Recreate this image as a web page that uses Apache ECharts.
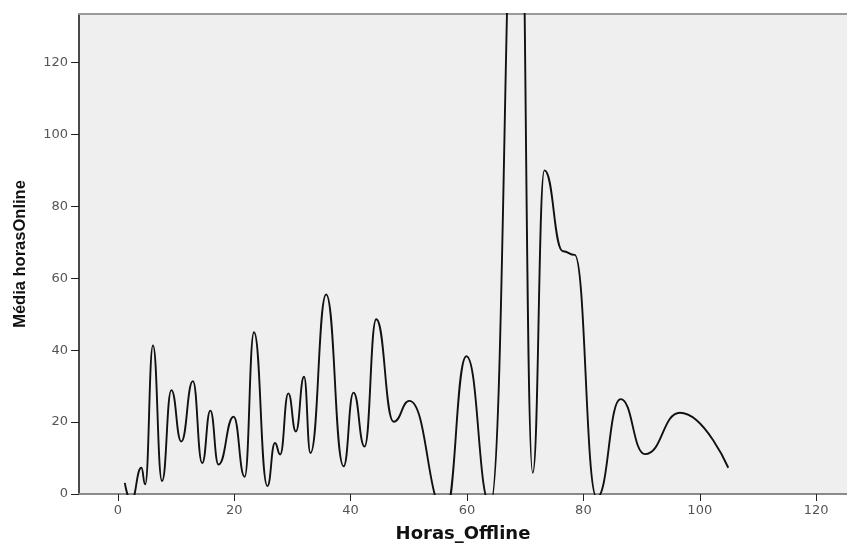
<!DOCTYPE html>
<html>
<head>
<meta charset="utf-8">
<script src="https://cdn.jsdelivr.net/npm/echarts@6/dist/echarts.min.js"></script>
<style>
html,body{margin:0;padding:0;background:#fff;}
#chart{width:847px;height:548px;}
</style>
</head>
<body>
<div id="chart"></div>
<script>
const hoursOffline = [1.2, 2.3, 4.05, 4.7, 6.04, 7.6, 9.2, 10.9, 12.9, 14.5,
  15.9, 17.3, 19.9, 21.8, 23.4, 25.7, 27.0, 27.9, 29.3, 30.6,
  32.0, 33.1, 35.8, 38.8, 40.5, 42.4, 44.4, 47.4, 50.1, 56.3,
  59.9, 64.0, 68.9, 71.3, 73.3, 76.5, 78.5, 82.3, 86.4, 90.6,
  96.6, 104.9];
const meanHoursOnline = [3.1, -2, 7.3, 2.7, 41.3, 3.6, 28.9, 14.6, 31.4, 8.6,
  23.2, 8.2, 21.5, 4.8, 45, 2.2, 14.2, 11.0, 28, 17.4,
  32.6, 11.4, 55.5, 7.7, 28.2, 13.2, 48.6, 20.1, 25.9, -5,
  38.3, -3, 203, 5.9, 90, 67.5, 66.5, -1, 26.4, 11.1,
  22.6, 7.3];
const xTicks = [0, 20, 40, 60, 80, 100, 120];
const yTicks = [0, 20, 40, 60, 80, 100, 120];

const points = hoursOffline.map((x, i) => [x, meanHoursOnline[i]]);

const chart = echarts.init(document.getElementById('chart'), null, {renderer: 'canvas'});
const labelFont = {fontFamily: 'DejaVu Sans, sans-serif', fontSize: 13, color: '#555'};
chart.setOption({
  animation: false,
  backgroundColor: '#ffffff',
  grid: {
    left: 79, right: -4, top: 14, bottom: 50,
    show: true, backgroundColor: '#efefef', borderWidth: 0
  },
  xAxis: [{
    type: 'value', min: -6.67, max: 125.3,
    name: 'Horas_Offline', nameLocation: 'middle', nameGap: 31,
    nameTextStyle: {fontFamily: 'DejaVu Sans, sans-serif', fontSize: 18, fontWeight: 'bold', color: '#111'},
    axisLine: {show: true, onZero: false, lineStyle: {color: '#8a8a8a', width: 2}},
    axisTick: {show: true, customValues: xTicks, length: 7, lineStyle: {color: '#222', width: 1}},
    axisLabel: Object.assign({customValues: xTicks, margin: 10}, labelFont),
    splitLine: {show: false}
  }, {
    type: 'value', position: 'top', min: -6.67, max: 125.3,
    axisLine: {show: true, onZero: false, lineStyle: {color: '#9a9a9a', width: 2}},
    axisTick: {show: false}, axisLabel: {show: false}, splitLine: {show: false}
  }],
  yAxis: {
    type: 'value', min: 0, max: 133.5,
    name: 'Média horasOnline', nameLocation: 'middle', nameGap: 50, nameRotate: 90,
    nameTextStyle: {fontFamily: 'Liberation Sans, Arial, sans-serif', fontSize: 16.5, fontWeight: 'bold', color: '#111'},
    axisLine: {show: true, onZero: false, lineStyle: {color: '#111', width: 1.5}},
    axisTick: {show: true, customValues: yTicks, length: 8, lineStyle: {color: '#222', width: 1}},
    axisLabel: Object.assign({customValues: yTicks, margin: 11}, labelFont),
    splitLine: {show: false}
  },
  series: [{
    type: 'line',
    data: points,
    smooth: 0.5,
    smoothMonotone: 'x',
    showSymbol: false,
    clip: true,
    lineStyle: {color: '#111', width: 1.9}
  }]
});
</script>
</body>
</html>
